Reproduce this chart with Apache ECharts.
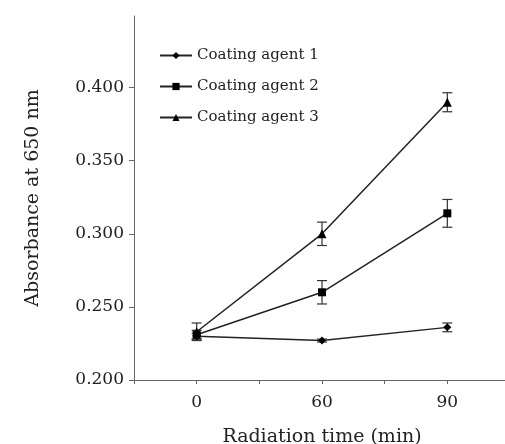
<!DOCTYPE html>
<html>
<head>
<meta charset="utf-8">
<script src="https://cdn.jsdelivr.net/npm/echarts@6/dist/echarts.min.js"></script>
<style>
  html, body { margin: 0; padding: 0; background: #fff; }
  #chart { width: 505px; height: 444px; }
</style>
</head>
<body>
<div id="chart"></div>
<script>
// x positions (category index) and their tick labels
const times = [0, 1, 2];
const timeLabels = ['0', '60', '90'];

const agent1 = [0.230, 0.227, 0.236];
const agent1Err = [0.002, 0.001, 0.003];
const agent2 = [0.231, 0.260, 0.314];
const agent2Err = [0.003, 0.008, 0.0095];
const agent3 = [0.233, 0.300, 0.390];
const agent3Err = [0.006, 0.008, 0.0065];

const names = ['Coating agent 1', 'Coating agent 2', 'Coating agent 3'];
const symbols = ['diamond', 'rect', 'triangle'];
const font = 'DejaVu Serif';

const chart = echarts.init(document.getElementById('chart'));

function lineSeries(name, values, symbol) {
  return {
    name: name,
    type: 'line',
    data: times.map((t, i) => [t, values[i]]),
    symbol: symbol,
    symbolSize: symbol === 'triangle' ? 9 : 8,
    lineStyle: { color: '#222', width: 1.5 },
    itemStyle: { color: '#000' },
    z: 3
  };
}

function errorSeries(values, errs) {
  return {
    type: 'custom',
    data: times.map((t, i) => [t, values[i] - errs[i], values[i] + errs[i]]),
    renderItem: function (params, api) {
      const lo = api.coord([api.value(0), api.value(1)]);
      const hi = api.coord([api.value(0), api.value(2)]);
      const w = 5;
      const style = { stroke: '#333', lineWidth: 1.2 };
      return {
        type: 'group',
        children: [
          { type: 'line', shape: { x1: lo[0], y1: lo[1], x2: hi[0], y2: hi[1] }, style: style },
          { type: 'line', shape: { x1: lo[0] - w, y1: lo[1], x2: lo[0] + w, y2: lo[1] }, style: style },
          { type: 'line', shape: { x1: hi[0] - w, y1: hi[1], x2: hi[0] + w, y2: hi[1] }, style: style }
        ]
      };
    },
    z: 2,
    silent: true
  };
}

const option = {
  backgroundColor: '#fff',
  animation: false,
  textStyle: { fontFamily: font, color: '#222' },
  grid: { left: 134, right: -5, top: 16, bottom: 64, outerBoundsMode: 'none', containLabel: false },
  legend: {
    orient: 'vertical',
    left: 154,
    top: 43,
    itemWidth: 32,
    itemHeight: 9,
    itemGap: 16,
    data: names,
    textStyle: { fontFamily: font, fontSize: 15, color: '#222' }
  },
  xAxis: {
    type: 'value',
    min: -0.5,
    max: 2.5,
    interval: 0.5,
    name: 'Radiation time (min)',
    nameLocation: 'middle',
    nameGap: 48,
    nameTextStyle: { fontFamily: font, fontSize: 19, color: '#222' },
    axisLine: { lineStyle: { color: '#666', width: 1 } },
    axisTick: { length: 4, lineStyle: { color: '#666' } },
    splitLine: { show: false },
    axisLabel: {
      fontFamily: font,
      fontSize: 17,
      color: '#222',
      margin: 14,
      formatter: v => (Number.isInteger(v) && v >= 0 && v < timeLabels.length) ? timeLabels[v] : ''
    }
  },
  yAxis: {
    type: 'value',
    min: 0.2,
    max: 0.449,
    interval: 0.05,
    name: 'Absorbance at 650 nm',
    nameLocation: 'middle',
    nameGap: 91,
    nameTextStyle: { fontFamily: font, fontSize: 19, color: '#222' },
    axisLine: { show: true, onZero: false, lineStyle: { color: '#666', width: 1 } },
    axisTick: { show: true, length: 5, lineStyle: { color: '#666' } },
    splitLine: { show: false },
    axisLabel: {
      fontFamily: font,
      fontSize: 17,
      color: '#222',
      margin: 10,
      showMaxLabel: false,
      formatter: v => v.toFixed(3)
    }
  },
  series: [
    lineSeries(names[0], agent1, symbols[0]),
    lineSeries(names[1], agent2, symbols[1]),
    lineSeries(names[2], agent3, symbols[2]),
    errorSeries(agent1, agent1Err),
    errorSeries(agent2, agent2Err),
    errorSeries(agent3, agent3Err)
  ]
};

chart.setOption(option);
</script>
</body>
</html>
